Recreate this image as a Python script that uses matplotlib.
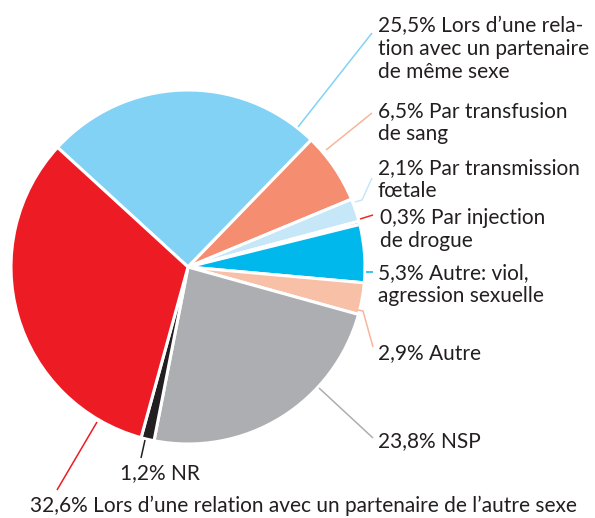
import matplotlib.pyplot as plt

# Data
labels = [
    "25,5% Lors d\u2019une rela-\ntion avec un partenaire\nde même sexe",
    "6,5% Par transfusion\nde sang",
    "2,1% Par transmission\nfœtale",
    "0,3% Par injection\nde drogue",
    "5,3% Autre: viol,\nagression sexuelle",
    "2,9% Autre",
    "23,8% NSP",
    "1,2% NR",
    "32,6% Lors d\u2019une relation avec un partenaire de l\u2019autre sexe",
]
values = [25.5, 6.5, 2.1, 0.3, 5.3, 2.9, 23.8, 1.2, 32.6]
colors = ["#82d2f5", "#f58d70", "#c6e7f8", "#ee2a24", "#00b8ec",
          "#f9c0a8", "#adaeb1", "#231f20", "#ed1c24"]

W, H = 595, 518
fig = plt.figure(figsize=(W / 100, H / 100), dpi=100)
ax = fig.add_axes([0, 0, 1, 1])

cx, cy, r = 188, H - 267, 177
ax.pie(values, colors=colors, startangle=137.5, counterclock=False,
       center=(cx, cy), radius=r, frame=True,
       wedgeprops=dict(edgecolor="white", linewidth=2.2))
ax.set_xlim(0, W)
ax.set_ylim(0, H)
ax.set_aspect("equal")
ax.axis("off")

# label positions (image pixels: x left, y of first line centre) and leader lines
text_pos = [(378, 25), (378, 110), (378, 167), (380, 217), (378, 272),
            (378, 352), (378, 440), (120, 472), (30, 505)]
leaders = [
    [(298, 127), (372, 33)],
    [(326, 150), (372, 113)],
    [(355, 202), (362, 200), (372, 178)],
    [(360, 219), (373, 215)],
    [(366, 272), (373, 272)],
    [(358, 310), (363, 311), (373, 347)],
    [(319, 388), (373, 438)],
    [(145, 440), (141, 458)],
    [(97, 422), (57, 490)],
]
line_colors = ["#82d2f5", "#f9b59c", "#c6e7f8", "#ee2a24", "#00b8ec",
               "#f9b59c", "#adaeb1", "#231f20", "#ed1c24"]

for lab, (tx, ty), pts, lc in zip(labels, text_pos, leaders, line_colors):
    xs = [p[0] for p in pts]
    ys = [H - p[1] for p in pts]
    ax.plot(xs, ys, color=lc, lw=1.1, solid_capstyle="butt")
    ax.text(tx, H - ty + 9, lab, ha="left", va="top", fontsize=15,
            family="Lato", color="#231f20", linespacing=1.2)

fig.savefig("out.png", dpi=100)
